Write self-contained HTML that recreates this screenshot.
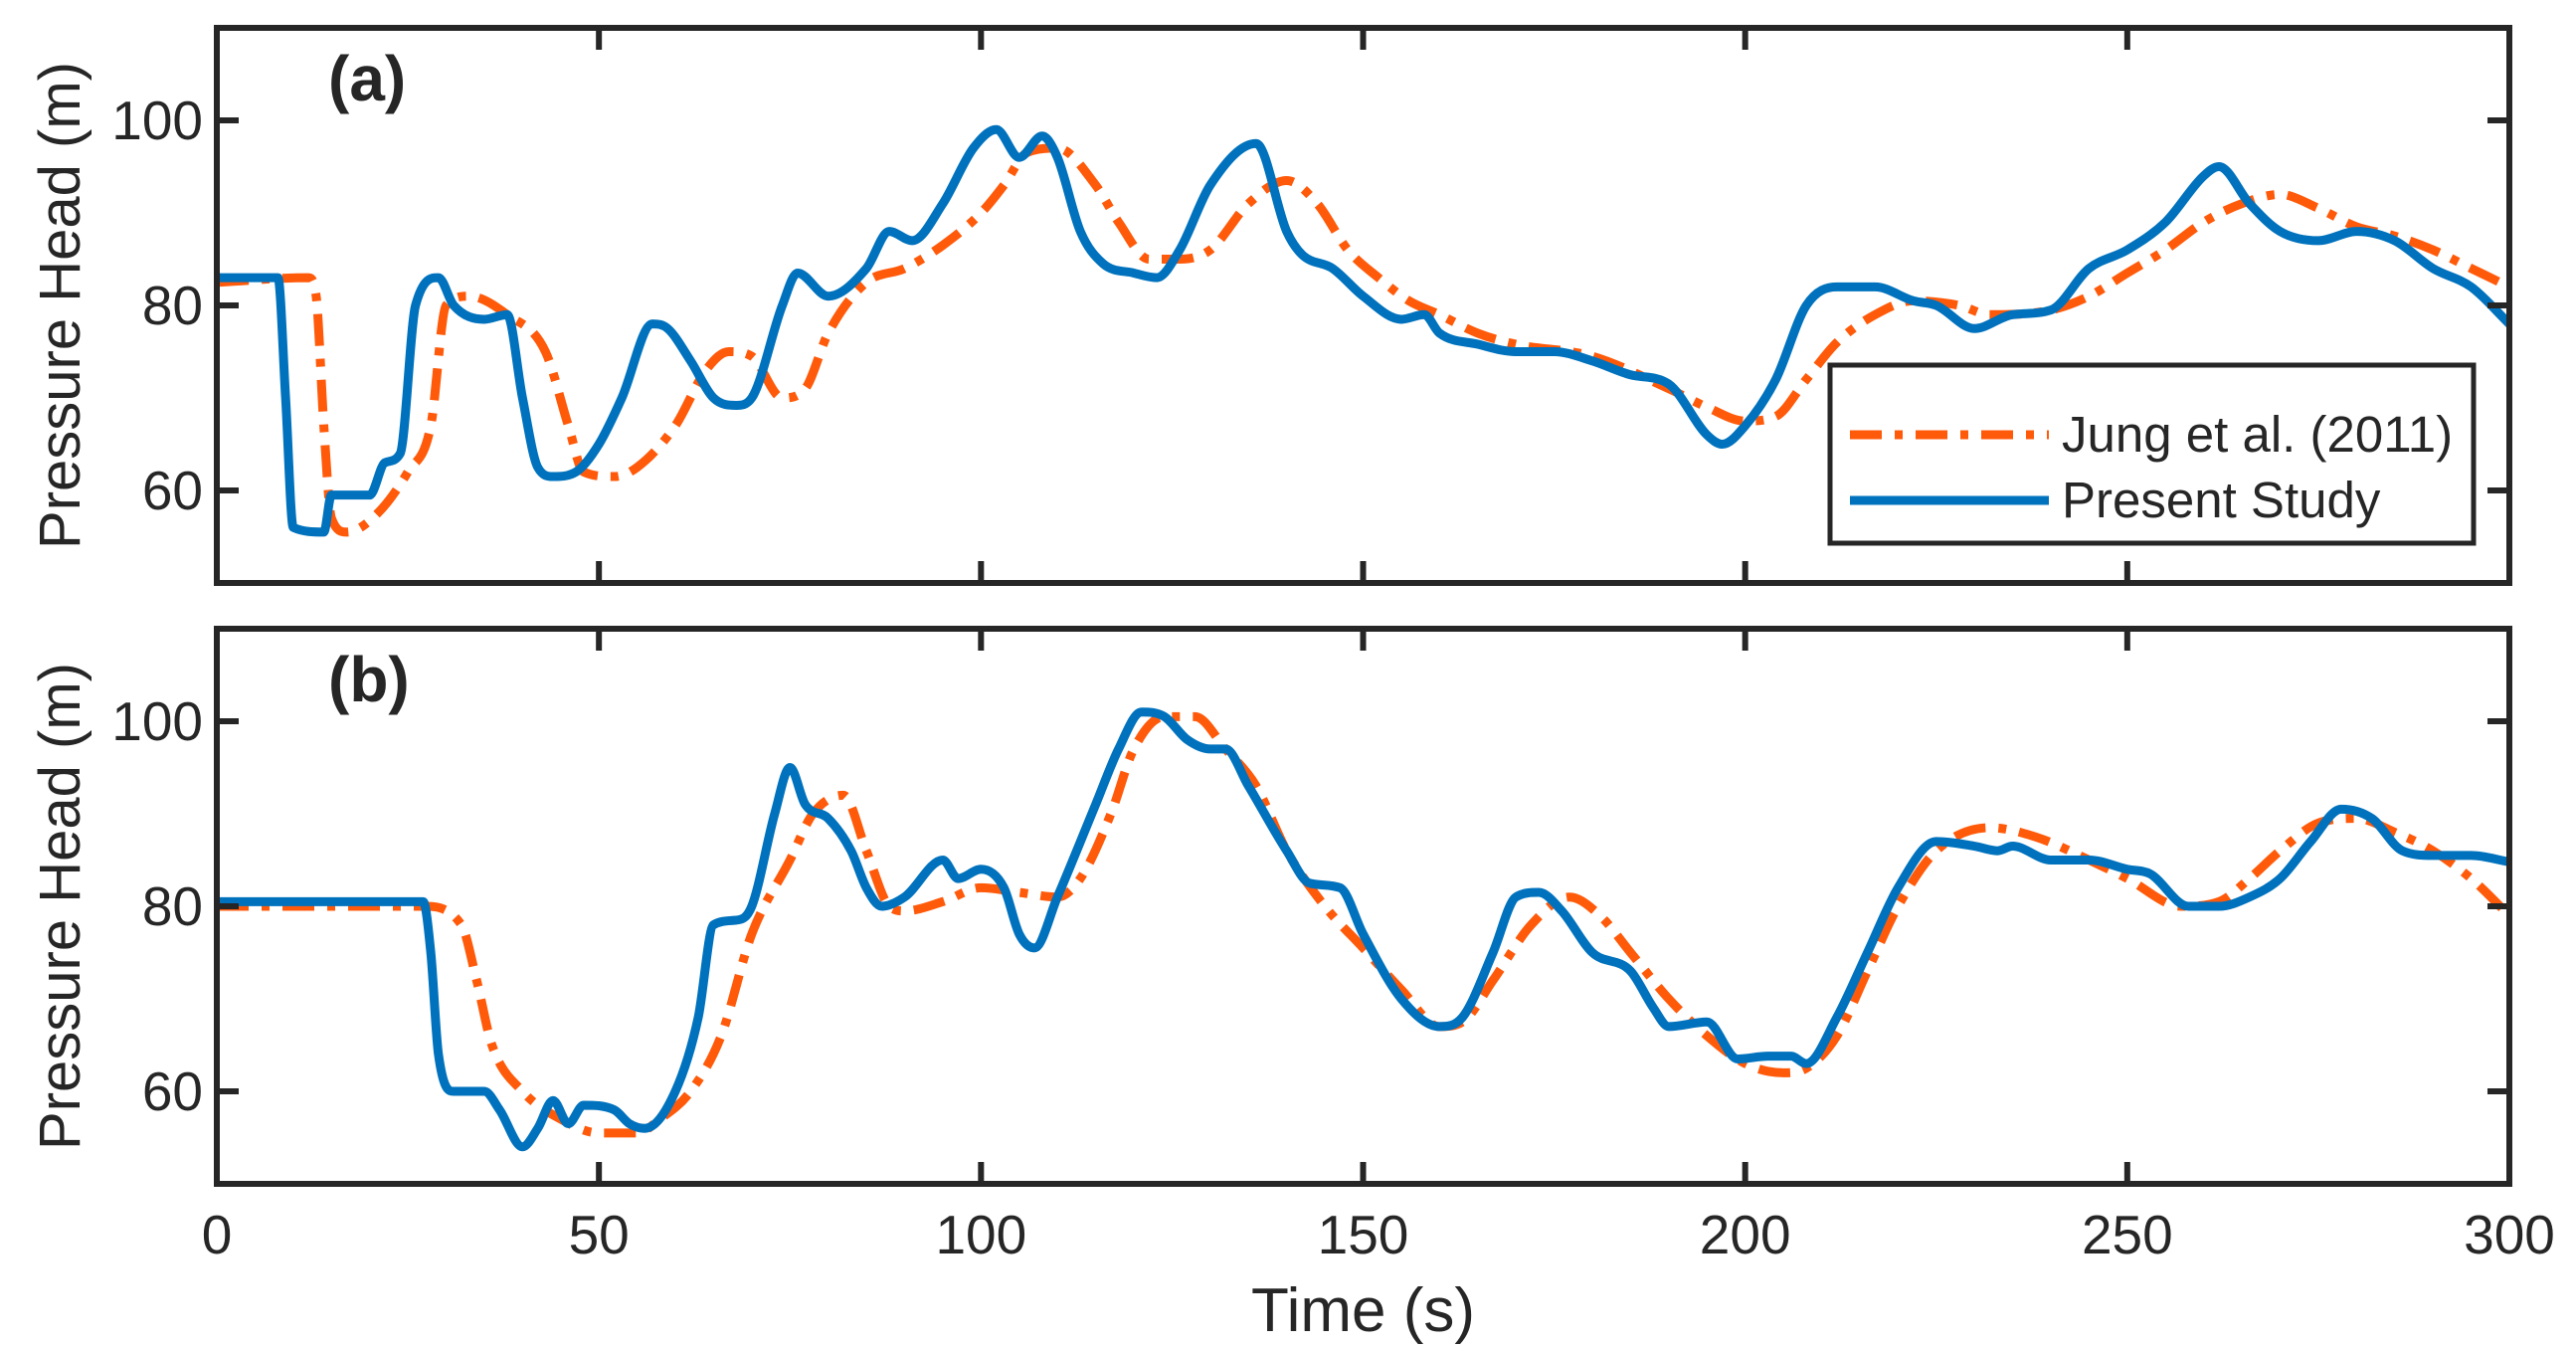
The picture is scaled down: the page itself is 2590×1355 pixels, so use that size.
<!DOCTYPE html>
<html><head><meta charset="utf-8"><style>
html,body{margin:0;padding:0;background:#fff}
svg{display:block}
text{font-family:"Liberation Sans",Arial,sans-serif;fill:#262626}
</style></head><body>
<svg id="chart" width="2590" height="1355" viewBox="0 0 2590 1355" xmlns="http://www.w3.org/2000/svg"></svg>
<script>
// ---- data ----
const xTicks=[0,50,100,150,200,250,300];
const yTicks=[60,80,100];
const aBlueT=[0,8,9,10,14,15,20,22,24,26,29,31,35,38,40,42,44,47,50,53,57,59,62,65,68,70,74,76,80,85,88,91,95,99,102,105,108,110,113,116,120,123,126,130,136,140,142,146,150,155,158,160,165,170,175,180,185,190,195,197,200,204,208,212,217,222,225,230,235,240,245,250,255,260,262,266,270,275,280,285,290,295,300];
const aBlueV=[83,83,70,56,55.5,59.5,59.5,63,64,80,83,80,78.5,79,70,62.5,61.5,62,65,70,78,77.5,74,70,69.2,70,80,83.5,81,84,88,87,91,97,99,96,98.3,96,88,84.5,83.5,83,86,93,97.5,88,85.5,84,81,78.5,79,77,75.8,75,75,74,72.5,71.5,66,65,67,72,80,82,82,80.5,80,77.5,79,79.5,84,86,89,94,95,91,88,87,88,87,84,82,78];
const aOrT=[0,12,13,14,15,17,21,25,28,30,33,38,43,46,48,52,55,60,64,67,70,74,77,80,85,90,95,100,103,106,110,115,118,122,126,130,135,140,144,148,152,156,160,165,170,180,190,195,200,204,208,212,217,222,228,232,240,245,250,255,260,265,270,275,280,285,290,295,300];
const aOrV=[82.5,83,81,67,57,55.5,57.5,62,67,80,81,79,75,67,62,61.5,62.5,67,73,75,74.5,70,71,77,82.5,84,86.5,90,93,96.5,97,93,89,85,85,86,91,93.5,91,86,83,80.5,79,77,75.8,74.5,71,69,67.5,68,72,76,79,80.5,80,79,79.5,81,83.5,86,89,91,92,90.5,88.5,87.5,86,84,82];
const bBlueT=[0,27,28,29,31,35,37,40,42,44,46,48,52,54,56,60,63,65,68,70,73,75,77,80,83,85,87,90,95,97,100,103,105,107,110,115,118,121,124,127,130,132,135,140,143,147,150,155,160,163,167,170,173,176,180,185,188,190,195,199,203,206,208,212,216,220,225,230,233,235,240,245,250,253,258,262,266,270,274,278,282,286,290,295,300];
const bBlueV=[80.5,80.5,75,64,60,60,58,54,56,59,56.5,58.5,58,56.5,56,60,68,78,78.5,80,90,95,91,89.5,86,82,80,81,85,83,84,82,77,75.5,81,91,97,101,100.5,98,97,97,93,86,82.5,82,77,70,67,68,75,81,81.5,79.5,75,73,69,67,67.5,63.5,63.8,63.8,63,68,75,82,87,86.5,86,86.5,85,85,84,83.5,80,80,81,83,87,90.5,89.5,86,85.5,85.5,84.8];
const bOrT=[0,27,32,34,36,40,45,50,55,58,62,66,70,75,78,82,85,88,90,95,100,105,110,113,117,120,124,128,132,136,140,145,150,155,160,163,167,172,177,181,185,190,195,200,205,208,212,216,220,225,232,238,245,250,257,262,266,270,275,280,285,290,295,300];
const bOrV=[80,80,78,72,65,60,57,55.5,55.5,57,60,66,77,85,90,92,86,80,79.5,80.5,82,81.5,81,83,90,97,100.5,100.5,97,93,86,80,75.5,71,67,67.5,72,78,81,79,75,70,66,63,62,62.5,66,73,80,86,88.5,87.5,85,83,80,80.5,83,86,89,89.5,88,86,83,79];

const svg=document.getElementById('chart');
const NS='http://www.w3.org/2000/svg';
function mk(tag,attrs,parent){const e=document.createElementNS(NS,tag);for(const k in attrs)e.setAttribute(k,attrs[k]);(parent||svg).appendChild(e);return e;}
const X0=218,X1=2523;
const xs=t=>X0+(t-0)/(300-0)*(X1-X0);
function monotonePath(p){
  const n=p.length,d=[],m=[];
  for(let i=0;i<n-1;i++)d.push((p[i+1][1]-p[i][1])/(p[i+1][0]-p[i][0]));
  m[0]=d[0];m[n-1]=d[n-2];
  for(let i=1;i<n-1;i++){m[i]=(d[i-1]*d[i]<=0)?0:(d[i-1]+d[i])/2;}
  for(let i=0;i<n-1;i++){if(d[i]===0){m[i]=0;m[i+1]=0;continue;}
    const a=m[i]/d[i],b=m[i+1]/d[i],s=a*a+b*b;if(s>9){const t=3/Math.sqrt(s);m[i]=t*a*d[i];m[i+1]=t*b*d[i];}}
  let s='M'+p[0][0]+','+p[0][1];
  for(let i=0;i<n-1;i++){const h=(p[i+1][0]-p[i][0])/3;
    s+=' C'+(p[i][0]+h)+','+(p[i][1]+m[i]*h)+' '+(p[i+1][0]-h)+','+(p[i+1][1]-m[i+1]*h)+' '+p[i+1][0]+','+p[i+1][1];}
  return s;}
function panel(top,bottom,label,bT,bV,oT,oV,id){
  const ys=v=>bottom-(v-50)/(110-50)*(bottom-top);
  const g=mk('g',{});
  
  
  const path=(T,V)=>monotonePath(T.map((t,i)=>[xs(t),ys(V[i])]));
  const o=mk('path',{d:path(oT,oV),fill:'none',stroke:'#FF5A0A','stroke-width':9,'stroke-dasharray':'32,13,8,13'},g);
  
  
  const b=mk('path',{d:path(bT,bV),fill:'none',stroke:'#0072BD','stroke-width':9,'stroke-linejoin':'round'},g);
  
  
  const f=mk('rect',{x:X0,y:top,width:X1-X0,height:bottom-top,fill:'none',stroke:'#262626','stroke-width':6},g);
  
  
  xTicks.forEach(t=>{const x=xs(t);
    mk('line',{x1:x,x2:x,y1:bottom,y2:bottom-22,stroke:'#262626','stroke-width':6},g);
    mk('line',{x1:x,x2:x,y1:top,y2:top+22,stroke:'#262626','stroke-width':6},g);});
  yTicks.forEach(v=>{const y=ys(v);
    mk('line',{x1:X0,x2:X0+22,y1:y,y2:y,stroke:'#262626','stroke-width':6},g);
    mk('line',{x1:X1,x2:X1-22,y1:y,y2:y,stroke:'#262626','stroke-width':6},g);
    const tl=mk('text',{x:X0-14,y:y+19,'text-anchor':'end','font-size':55},g);tl.textContent=v;
    
    });
  const pl=mk('text',{x:330,y:top+73,'font-size':64,'font-weight':'bold'},g);pl.textContent=label;
  
  
  const yl=mk('text',{x:0,y:0,'font-size':58,'text-anchor':'middle',transform:`translate(80,${(top+bottom)/2}) rotate(-90)`},g);yl.textContent='Pressure Head (m)';
  
  
}
panel(28,586,'(a)',aBlueT,aBlueV,aOrT,aOrV,'a');
panel(632,1190,'(b)',bBlueT,bBlueV,bOrT,bOrV,'b');
xTicks.forEach(t=>{const tl=mk('text',{x:xs(t),y:1260,'text-anchor':'middle','font-size':55});tl.textContent=t;
  
  });
const xt=mk('text',{x:(X0+X1)/2,y:1338,'text-anchor':'middle','font-size':62});xt.textContent='Time (s)';


const lg=mk('g',{});


mk('rect',{x:1840,y:367,width:647,height:179,fill:'#fff',stroke:'#262626','stroke-width':5},lg);
mk('line',{x1:1860,x2:2060,y1:437,y2:437,stroke:'#FF5A0A','stroke-width':9,'stroke-dasharray':'32,13,8,13'},lg);
mk('line',{x1:1860,x2:2060,y1:503,y2:503,stroke:'#0072BD','stroke-width':9},lg);
const l1=mk('text',{x:2073,y:454,'font-size':51},lg);l1.textContent='Jung et al. (2011)';


const l2=mk('text',{x:2073,y:520,'font-size':51},lg);l2.textContent='Present Study';


</script>
</body></html>
